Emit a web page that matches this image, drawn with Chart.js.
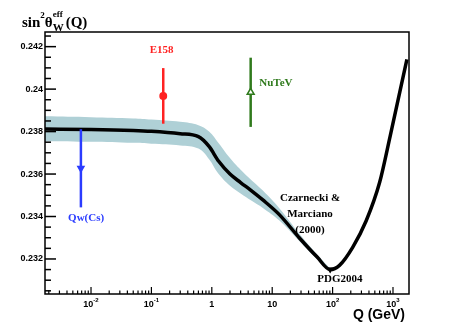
<!DOCTYPE html>
<html>
<head>
<meta charset="utf-8">
<script src="https://cdn.jsdelivr.net/npm/chart.js@4.4.1/dist/chart.umd.min.js"></script>
<style>
  html, body { margin: 0; padding: 0; background: #ffffff; }
  #wrap { width: 455px; height: 327px; }
</style>
</head>
<body>
<div id="wrap"><canvas id="chart"></canvas></div>
<script>
// running sin^2 theta_W (Czarnecki & Marciano curve)
const curveQ = [0.00173, 0.01, 0.05, 0.1, 0.3, 0.6, 0.9, 1.3, 2, 3, 4.5, 7, 13, 28, 55, 91, 130, 215, 360, 600, 900, 1700]
const curveS = [0.23812, 0.23810, 0.23805, 0.23801, 0.23790, 0.23776, 0.23730, 0.23660, 0.23600, 0.23560, 0.23522, 0.23478, 0.23410, 0.23300, 0.23210, 0.23150, 0.23170, 0.23255, 0.23380, 0.23560, 0.23780, 0.24140]

// theory uncertainty band
const bandQ = [0.00173, 0.01, 0.05, 0.1, 0.3, 0.6, 0.9, 1.3, 2, 3, 4.5, 7, 13, 28, 55, 91]
const bandHi = [0.23872, 0.23868, 0.23862, 0.23857, 0.23846, 0.23830, 0.23800, 0.23745, 0.23675, 0.23620, 0.23572, 0.23522, 0.23440, 0.23320, 0.23222, 0.23155]
const bandLo = [0.23755, 0.23752, 0.23747, 0.23743, 0.23735, 0.23720, 0.23670, 0.23600, 0.23545, 0.23508, 0.23475, 0.23440, 0.23382, 0.23285, 0.23200, 0.23145]

// measurements
const pointNames = ["Qw(Cs)", "E158", "NuTeV", "PDG2004"]
const pointQ = [0.0068, 0.157, 4.4, 91.2]
const pointS = [0.23627, 0.23968, 0.23985, 0.23150]
const pointErr = [0.00184, 0.00131, 0.00163, 0]
const pointColors = ["#2b3cff", "#ff2222", "#2f7a1c", "#000000"]

const xTickLabels = [
  { q: 0.01, base: "10", exp: "-2" },
  { q: 0.1, base: "10", exp: "-1" },
  { q: 1, base: "1", exp: "" },
  { q: 10, base: "10", exp: "" },
  { q: 100, base: "10", exp: "2" },
  { q: 1000, base: "10", exp: "3" }
]
const yTickLabels = ["0.232", "0.234", "0.236", "0.238", "0.24", "0.242"]

const serifBold = (size) => `bold ${size}px "Liberation Serif", "DejaVu Serif", serif`
const sansBold = (size) => `bold ${size}px "Liberation Sans", Arial, sans-serif`

const toXY = (xs, ys) => xs.map((x, i) => ({ x: x, y: ys[i] }))

const errorBars = pointNames.slice(0, 3).map((name, i) => ({
  label: name + " error",
  order: 2,
  data: [
    { x: pointQ[i], y: pointS[i] - pointErr[i] },
    { x: pointQ[i], y: pointS[i] + pointErr[i] }
  ],
  borderColor: pointColors[i],
  borderWidth: 2.5,
  pointRadius: 0,
  fill: false
}))

const markerStyles = [
  { style: "triangle", rotation: 180, radius: 3.5, fill: pointColors[0] },
  { style: "circle", rotation: 0, radius: 3.2, fill: pointColors[1] },
  { style: "triangle", rotation: 0, radius: 4, fill: "#ffffff" },
  { style: "triangle", rotation: 180, radius: 2.5, fill: pointColors[3] }
]

const markers = pointNames.map((name, i) => ({
  label: name,
  order: 1,
  data: [{ x: pointQ[i], y: pointS[i] }],
  showLine: false,
  pointStyle: markerStyles[i].style,
  rotation: markerStyles[i].rotation,
  pointRadius: markerStyles[i].radius,
  pointBackgroundColor: markerStyles[i].fill,
  pointBorderColor: pointColors[i],
  pointBorderWidth: 1.5
}))

// text annotations placed in data coordinates
const annotations = [
  { lines: ["Qw(Cs)"], q: 0.0083, s: 0.23393, color: pointColors[0], align: "center" },
  { lines: ["E158"], q: 0.148, s: 0.24184, color: pointColors[1], align: "center" },
  { lines: ["NuTeV"], q: 6.1, s: 0.24028, color: pointColors[2], align: "left" },
  { lines: ["Czarnecki &", "Marciano", "(2000)"], q: 42.3, s: 0.23486, color: "#000000", align: "center" },
  { lines: ["PDG2004"], q: 132, s: 0.23104, color: "#000000", align: "center" }
]

const framePlugin = {
  id: "frame",
  afterDatasetsDraw(chart) {
    const { ctx, chartArea: area } = chart
    const xs = chart.scales.x
    const ys = chart.scales.y

    ctx.save()
    ctx.strokeStyle = "#000000"
    ctx.lineWidth = 1.5
    ctx.strokeRect(area.left, area.top, area.right - area.left, area.bottom - area.top)

    // y ticks, drawn inward
    ctx.lineWidth = 1.5
    for (let k = 460; k <= 486; k++) {
      const v = k * 0.0005
      if (v < ys.min || v > ys.max) continue
      const py = ys.getPixelForValue(v)
      const len = k % 4 === 0 ? 11 : 6
      ctx.beginPath()
      ctx.moveTo(area.left, py)
      ctx.lineTo(area.left + len, py)
      ctx.stroke()
    }

    // x ticks (log), drawn inward
    ctx.lineWidth = 1.2
    for (let e = -3; e <= 3; e++) {
      for (let m = 1; m <= 9; m++) {
        const q = m * Math.pow(10, e)
        if (q < xs.min || q > xs.max) continue
        const px = xs.getPixelForValue(q)
        const len = m === 1 ? 7 : 3.5
        ctx.beginPath()
        ctx.moveTo(px, area.bottom)
        ctx.lineTo(px, area.bottom - len)
        ctx.stroke()
      }
    }

    // y tick labels
    ctx.fillStyle = "#000000"
    ctx.font = sansBold(9)
    ctx.textAlign = "right"
    ctx.textBaseline = "middle"
    yTickLabels.forEach((label) => {
      ctx.fillText(label, area.left - 2, ys.getPixelForValue(Number(label)))
    })

    // x tick labels with exponents
    ctx.textBaseline = "alphabetic"
    ctx.textAlign = "left"
    xTickLabels.forEach((t) => {
      ctx.font = sansBold(9)
      const wb = ctx.measureText(t.base).width
      ctx.font = sansBold(6)
      const we = t.exp ? ctx.measureText(t.exp).width : 0
      const px = xs.getPixelForValue(t.q)
      const x0 = px - (wb + we) / 2
      ctx.font = sansBold(9)
      ctx.fillText(t.base, x0, 307)
      if (t.exp) {
        ctx.font = sansBold(6)
        ctx.fillText(t.exp, x0 + wb, 302)
      }
    })

    // axis titles
    ctx.font = sansBold(14)
    ctx.textAlign = "right"
    ctx.fillText("Q (GeV)", 405, 319)

    ctx.textAlign = "left"
    let x = 22
    ctx.font = serifBold(15)
    ctx.fillText("sin", x, 27)
    x += ctx.measureText("sin").width
    ctx.font = serifBold(9)
    ctx.fillText("2", x, 18)
    x += ctx.measureText("2").width
    ctx.font = serifBold(15)
    ctx.fillText("θ", x, 27)
    x += ctx.measureText("θ").width
    ctx.font = serifBold(9)
    ctx.fillText("eff", x, 17)
    const wEff = ctx.measureText("eff").width
    ctx.font = serifBold(11)
    ctx.fillText("W", x, 31)
    x += Math.max(wEff, ctx.measureText("W").width) + 2
    ctx.font = serifBold(15)
    ctx.fillText("(Q)", x, 27)

    // annotations
    ctx.font = serifBold(11)
    ctx.textBaseline = "middle"
    annotations.forEach((a) => {
      ctx.fillStyle = a.color
      ctx.textAlign = a.align
      const px = xs.getPixelForValue(a.q)
      const py = ys.getPixelForValue(a.s)
      a.lines.forEach((line, i) => {
        ctx.fillText(line, px, py + i * 16)
      })
    })
    ctx.restore()
  }
}

new Chart(document.getElementById("chart"), {
  type: "line",
  data: {
    datasets: [
      {
        label: "band high",
        order: 10,
        data: toXY(bandQ, bandHi),
        borderWidth: 0,
        borderColor: "rgba(0,0,0,0)",
        backgroundColor: "#afd0d6",
        pointRadius: 0,
        tension: 0.4,
        fill: "+1"
      },
      {
        label: "band low",
        order: 9,
        data: toXY(bandQ, bandLo),
        borderWidth: 0,
        borderColor: "rgba(0,0,0,0)",
        pointRadius: 0,
        tension: 0.4,
        fill: false
      },
      {
        label: "Czarnecki & Marciano (2000)",
        order: 5,
        data: toXY(curveQ, curveS),
        borderColor: "#000000",
        borderWidth: 3.5,
        pointRadius: 0,
        cubicInterpolationMode: "monotone",
        fill: false
      },
      ...errorBars,
      ...markers
    ]
  },
  options: {
    responsive: true,
    maintainAspectRatio: false,
    animation: false,
    layout: {
      padding: { left: 45, right: 46, top: 32, bottom: 33 }
    },
    plugins: {
      legend: { display: false },
      tooltip: { enabled: false }
    },
    scales: {
      x: {
        type: "logarithmic",
        min: 0.00173,
        max: 1841,
        grid: { display: false, drawTicks: false },
        border: { display: false },
        ticks: { display: false }
      },
      y: {
        type: "linear",
        min: 0.23035,
        max: 0.24269,
        grid: { display: false, drawTicks: false },
        border: { display: false },
        ticks: { display: false }
      }
    }
  },
  plugins: [framePlugin]
})
</script>
</body>
</html>
